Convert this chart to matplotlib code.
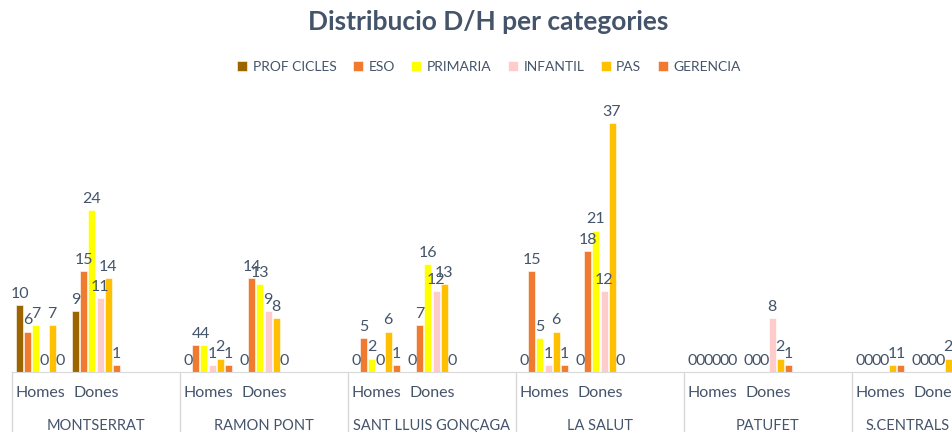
import numpy as np
import matplotlib
matplotlib.use('Agg')
import matplotlib.pyplot as plt

# schools and the two categories under each one
schools = ['MONTSERRAT', 'RAMON PONT', 'SANT LLUIS GONÇAGA', 'LA SALUT', 'PATUFET', 'S.CENTRALS']
genders = ['Homes', 'Dones']
series = ['PROF CICLES', 'ESO', 'PRIMARIA', 'INFANTIL', 'PAS', 'GERENCIA']
colors = ['#9C6500', '#EF7A30', '#FFFF00', '#FFCCCC', '#FFC000', '#EF7A30']

# values per series, ordered school by school: Homes, Dones
prof_cicles = [10, 9, 0, 0, 0, 0, 0, 0, 0, 0, 0, 0]
eso = [6, 15, 4, 14, 5, 7, 15, 18, 0, 0, 0, 0]
primaria = [7, 24, 4, 13, 2, 16, 5, 21, 0, 0, 0, 0]
infantil = [0, 11, 1, 9, 0, 12, 1, 12, 0, 8, 0, 0]
pas = [7, 14, 2, 8, 6, 13, 6, 37, 0, 2, 1, 2]
gerencia = [0, 1, 1, 0, 1, 0, 1, 0, 0, 1, 1, 0]
values = [prof_cicles, eso, primaria, infantil, pas, gerencia]

label_col = '#44546A'
line_col = '#D9D9D9'
plt.rcParams['font.family'] = ['Lato', 'DejaVu Sans']

W, H = 953, 432
fig = plt.figure(figsize=(W / 100, H / 100), dpi=100)
# axes spans past the right edge, like the cropped original
left_px, right_px, top_px, bot_px = 12, 964, 96, 372
ax = fig.add_axes([left_px / W, 1 - bot_px / H, (right_px - left_px) / W, (bot_px - top_px) / H])

# slot positions: Homes, Dones, then an empty slot between schools
pos = []
for i in range(len(schools)):
    pos += [3 * i, 3 * i + 1]
pos = np.array(pos, dtype=float)

step = 0.143
width = 0.125
for k, (name, vals, c) in enumerate(zip(series, values, colors)):
    x = pos + (k - 2.5) * step
    bars = ax.bar(x, vals, width, color=c, label=name, edgecolor='white', linewidth=0.4)
    ax.bar_label(bars, padding=3, fontsize=11.5, color=label_col)

ax.set_xlim(-0.5, 16.5)
ax.set_ylim(0, 41)
ax.set_yticks([])
ax.set_xticks([])
for s in ['top', 'right', 'left']:
    ax.spines[s].set_visible(False)
ax.spines['bottom'].set_color(line_col)

# two-level category axis
tr = ax.get_xaxis_transform()
axh = bot_px - top_px
for j, p in enumerate(pos):
    ax.text(p, -21 / axh, genders[j % 2], transform=tr, ha='center', va='center',
            fontsize=11.5, color=label_col)
for i, sch in enumerate(schools):
    # last school has no empty slot after it
    cx = 3 * i + 1 if i < len(schools) - 1 else 3 * i + 0.5
    ax.text(cx, -54 / axh, sch, transform=tr, ha='center', va='center',
            fontsize=10.5, color=label_col)
    ax.plot([3 * i - 0.5, 3 * i - 0.5], [0, -62 / axh], transform=tr, color=line_col,
            lw=1, clip_on=False)

fig.text(488 / W, 1 - 22 / H, 'Distribucio D/H per categories', ha='center', va='center',
         fontsize=19, fontweight='bold', color=label_col)

fig.legend(loc='center', bbox_to_anchor=(489 / W, 1 - 67 / H), ncol=6, frameon=False,
           fontsize=10, labelcolor=label_col, handlelength=0.7, handleheight=0.7,
           handletextpad=0.4, columnspacing=1.2)

fig.savefig('out.png', dpi=100)
